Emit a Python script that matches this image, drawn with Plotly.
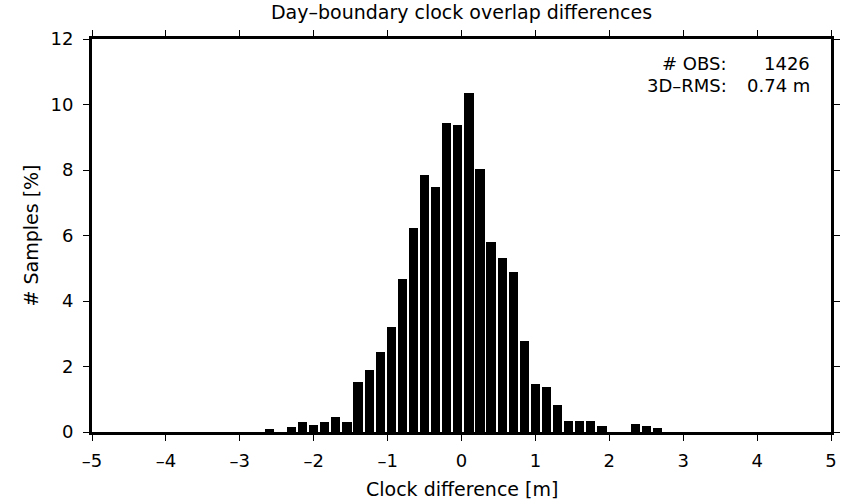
import plotly.graph_objects as go

# Bin centres [m] (bin width 0.15 m) and sample share [%]
bin_centers = [-2.6, -2.45, -2.3, -2.15, -2.0, -1.85, -1.7, -1.55, -1.4, -1.25,
               -1.1, -0.95, -0.8, -0.65, -0.5, -0.35, -0.2, -0.05, 0.1, 0.25,
               0.4, 0.55, 0.7, 0.85, 1.0, 1.15, 1.3, 1.45, 1.6, 1.75,
               1.9, 2.05, 2.2, 2.35, 2.5, 2.65]
samples_pct = [0.1, 0.0, 0.15, 0.32, 0.22, 0.32, 0.47, 0.32, 1.54, 1.88,
               2.44, 3.21, 4.67, 6.22, 7.85, 7.47, 9.44, 9.37, 10.34, 8.03,
               5.79, 5.30, 4.89, 2.78, 1.46, 1.37, 0.81, 0.33, 0.33, 0.33,
               0.18, 0.0, 0.0, 0.24, 0.17, 0.11]

x_ticks = [-5, -4, -3, -2, -1, 0, 1, 2, 3, 4, 5]
y_ticks = [0, 2, 4, 6, 8, 10, 12]

stat_labels = ["# OBS:", "3D\u2013RMS:"]
stat_values = ["1426", "0.74 m"]

FONT = "DejaVu Sans, Liberation Sans, Arial, sans-serif"
FS = 18
FS_T = 19

fig = go.Figure()
fig.add_trace(go.Bar(
    x=bin_centers, y=samples_pct, width=0.125,
    marker=dict(color="black", line=dict(width=0)),
    showlegend=False,
))

axis_common = dict(
    showline=True, linewidth=3, linecolor="black", mirror="allticks",
    ticks="outside", ticklen=6, tickwidth=1, tickcolor="black",
    showgrid=False, zeroline=False, automargin=False,
    tickfont=dict(family=FONT, size=FS, color="black"),
)

L, R, T, B = 92, 11, 39, 70
W, H = 842, 502
pw, ph = W - L - R, H - T - B

fig.update_layout(
    width=W, height=H, autosize=False,
    margin=dict(l=L, r=R, t=T, b=B, pad=0),
    paper_bgcolor="white", plot_bgcolor="white",
    bargap=0,
    title=dict(text="Day\u2013boundary clock overlap differences",
               x=(L + pw / 2) / W, xanchor="center",
               y=1 - 12 / H, yanchor="middle", yref="container",
               font=dict(family=FONT, size=FS_T, color="black")),
    xaxis=dict(range=[-5, 5], tickvals=x_ticks,
               ticktext=[str(v).replace("-", "\u2013") for v in x_ticks],
               ticklabelstandoff=4, **axis_common),
    yaxis=dict(range=[0, 12], tickvals=y_ticks, ticklabelstandoff=6,
               **axis_common),
)

annotations = [
    dict(text="Clock difference [m]", xref="paper", yref="paper",
         x=0.5, y=0, xanchor="center", yanchor="middle", yshift=-57,
         showarrow=False, font=dict(family=FONT, size=FS_T, color="black")),
    dict(text="# Samples [%]", xref="paper", yref="paper",
         x=0, y=0.5, xanchor="center", yanchor="middle", xshift=-62,
         textangle=-90, showarrow=False,
         font=dict(family=FONT, size=FS_T, color="black")),
]
rows_px = [63, 85.5]
for lab, val, ypx in zip(stat_labels, stat_values, rows_px):
    yy = 1 - (ypx - T) / ph
    annotations.append(dict(text=lab, xref="paper", yref="paper",
                            x=(729 - L) / pw, y=yy,
                            xanchor="right", yanchor="middle", showarrow=False,
                            font=dict(family=FONT, size=FS, color="black")))
    annotations.append(dict(text=val, xref="paper", yref="paper",
                            x=(812 - L) / pw, y=yy,
                            xanchor="right", yanchor="middle", showarrow=False,
                            font=dict(family=FONT, size=FS, color="black")))
fig.update_layout(annotations=annotations)

fig.write_html("out.html")
